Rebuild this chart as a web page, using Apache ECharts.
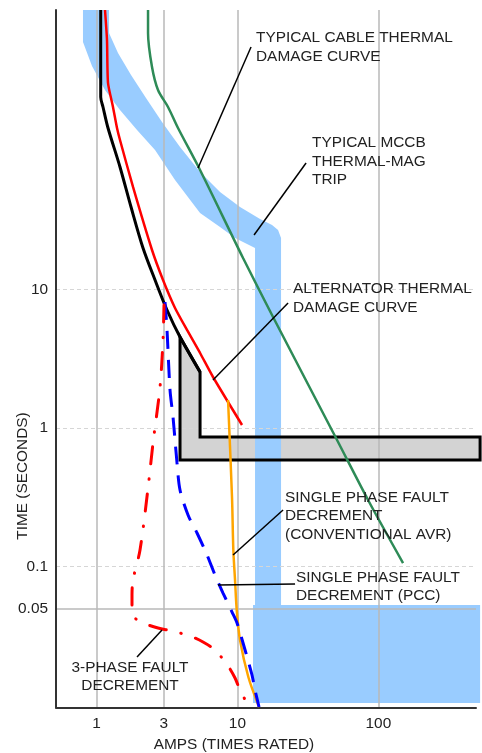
<!DOCTYPE html>
<html>
<head>
<meta charset="utf-8">
<script src="https://cdn.jsdelivr.net/npm/echarts@6/dist/echarts.min.js"></script>
<style>
  html, body { margin: 0; padding: 0; background: #fff; }
  #chart { width: 482px; height: 753px; }
</style>
</head>
<body>
<div id="chart"></div>
<script>
// axis ranges and ticks (amps = times rated, secs = seconds)
var xMin = 0.516, xMax = 492.9
var yMin = 0.009658, yMax = 1032
var xTicks = [1, 3, 10, 100]
var yTicks = [0.05, 0.1, 1, 10]
var yDashGrid = [0.1, 1, 10]
var ySolidGrid = [0.05]

// alternator curve (black)
var altAmps = [1.071, 1.071, 1.112, 1.207, 1.468, 1.758, 2.138, 2.602, 3.165, 3.914, 5.43]
var altSecs = [1032, 243.5, 206.3, 145.5, 76.2, 39.2, 19.86, 11.67, 7.09, 4.53, 2.534]

// grey L-shaped zone under the black curve
var boxAmps = [3.914, 5.43, 5.43, 527, 527, 3.914]
var boxSecs = [4.53, 2.534, 0.861, 0.861, 0.588, 0.588]

// alternator thermal damage curve (red)
var dmgAmps = [1.149, 1.187, 1.207, 1.309, 1.398, 1.468, 1.816, 2.477, 2.965, 3.607, 4.388, 5.43, 6.71, 10.78]
var dmgSecs = [1032, 627, 307.2, 206.3, 145.5, 119.2, 54.7, 19.2, 11.67, 7.33, 5.09, 3.474, 2.332, 1.051]

// typical cable thermal damage curve (green)
var cableAmps = [2.321, 2.321, 2.477, 2.732, 3.217, 3.788, 5.43, 10.96, 17.89, 50.9, 84.5, 149.7]
var cableSecs = [1032, 704.6, 400.6, 273.5, 206.3, 145.5, 72.5, 16.82, 6.31, 0.8194, 0.3027, 0.1063]

// single phase fault decrement, conventional AVR (orange)
var avrAmps = [8.579, 9.156, 9.352, 9.616, 9.886, 10.43, 11.95, 14.23]
var avrSecs = [1.592, 0.3129, 0.132, 0.0802, 0.0487, 0.02961, 0.01602, 0.00974]

// single phase fault decrement, PCC (blue dashed)
var pccAmps = [3.063, 3.165, 3.324, 3.491, 3.727, 3.914, 4.461, 5.168, 6.085, 6.934, 7.902, 9.156, 9.935, 10.96, 11.70, 12.69, 13.33, 14.23]
var pccSecs = [8.10, 5.09, 1.879, 1.2005, 0.5594, 0.3573, 0.2359, 0.175, 0.1215, 0.0871, 0.0646, 0.0471, 0.03926, 0.02818, 0.02234, 0.01656, 0.01291, 0.00974]

// 3-phase fault decrement (red dash-dot)
var tpAmps = [3.013, 2.965, 2.823, 2.518, 2.321, 2.036, 1.816, 1.786, 1.786, 1.876, 2.138, 2.732, 3.435, 4.609, 5.699, 6.934, 8.579, 9.616, 10.43, 12.09]
var tpSecs = [7.70, 4.31, 1.975, 0.7795, 0.3693, 0.132, 0.0802, 0.06252, 0.0487, 0.04267, 0.03926, 0.03614, 0.03439, 0.03165, 0.02865, 0.02507, 0.01924, 0.01576, 0.01291, 0.00974]

// MCCB thermal-mag trip band (light blue outline, clockwise)
var bandAmps = [0.8019, 0.8019, 0.929, 1.149, 1.468, 1.939, 2.602, 3.607, 5.43, 7.523, 9.616, 13.33, 13.33, 12.90, 12.90, 527, 527, 20.39, 20.39, 19.42, 17.60, 14.47, 10.43, 7.523, 5.43, 3.914, 2.916, 2.245, 1.758, 1.421, 1.227, 1.227]
var bandSecs = [1032, 606.7, 407.4, 273.5, 196.2, 140.8, 101.0, 61.38, 35.49, 28.13, 23.44, 19.86, 0.05295, 0.05295, 0.0104, 0.0104, 0.05295, 0.05295, 23.44, 26.77, 29.08, 32.1, 39.2, 50.3, 70.1, 106.2, 160.8, 239.4, 350.8, 505.3, 704.6, 1032]

// leader lines [amps, secs]
var leadCable = [[5.253, 74.9], [12.49, 558.4]]
var leadMccb = [[13.12, 24.63], [30.69, 81.4]]
var leadAlt = [[6.71, 2.219], [22.87, 7.965]]
var leadAvr = [[9.307, 0.1215], [21.07, 0.2563]]
var leadPcc = [[7.284, 0.07381], [25.63, 0.07504]]
var leadThree = [[2.916, 0.03496], [1.939, 0.02234]]

// annotation texts
var noteCable = ['TYPICAL CABLE THERMAL', 'DAMAGE CURVE']
var noteMccb = ['TYPICAL MCCB', 'THERMAL-MAG', 'TRIP']
var noteAlt = ['ALTERNATOR THERMAL', 'DAMAGE CURVE']
var noteAvr = ['SINGLE PHASE FAULT', 'DECREMENT', '(CONVENTIONAL AVR)']
var notePcc = ['SINGLE PHASE FAULT', 'DECREMENT (PCC)']
var noteThree = ['3-PHASE FAULT', 'DECREMENT']

var FONT = '"Liberation Sans", Arial, sans-serif'
var INK = '#222'

function lg(v) {
  return Math.log10(v)
}

function pts(amps, secs) {
  return amps.map(function (a, i) {
    return [lg(a), lg(secs[i])]
  })
}

function logPairs(list) {
  return list.map(function (p) {
    return [lg(p[0]), lg(p[1])]
  })
}

function tickText(v) {
  return String(Math.round(Math.pow(10, v) * 100) / 100)
}

function curve(data, style, smooth) {
  return {
    type: 'line',
    data: data,
    showSymbol: false,
    symbol: 'none',
    smooth: smooth,
    silent: true,
    z: 3,
    lineStyle: style
  }
}

function poly(points, style, z) {
  return {
    type: 'custom',
    coordinateSystem: 'cartesian2d',
    silent: true,
    z: z,
    data: [[0, 0]],
    renderItem: function (params, api) {
      return {
        type: 'polygon',
        shape: { points: points.map(function (p) { return api.coord(p) }) },
        style: style
      }
    }
  }
}

function leader(list) {
  return curve(logPairs(list), { color: '#000', width: 1.5 }, false)
}

function note(lines, x, y, align) {
  return {
    type: 'text',
    x: x,
    y: y,
    z: 10,
    silent: true,
    style: {
      text: lines.join('\n'),
      fontSize: 15.4,
      fontFamily: FONT,
      fill: INK,
      lineHeight: 18.5,
      align: align || 'left',
      verticalAlign: 'top'
    }
  }
}

var chart = echarts.init(document.getElementById('chart'), null, { renderer: 'canvas' })

var option = {
  animation: false,
  backgroundColor: '#fff',
  textStyle: { fontFamily: FONT },
  grid: { left: 56, right: 6, top: 10, bottom: 45.5 },
  xAxis: {
    type: 'value',
    min: lg(xMin),
    max: lg(xMax),
    axisLine: { onZero: false, lineStyle: { color: '#333', width: 2 } },
    axisTick: { show: false, customValues: xTicks.map(lg) },
    axisLabel: {
      customValues: xTicks.map(lg),
      formatter: tickText,
      color: INK,
      fontSize: 15.4,
      margin: 9
    },
    splitLine: { show: true, lineStyle: { color: '#b8b8b8', width: 1.5 } }
  },
  yAxis: [{
    type: 'value',
    min: lg(yMin),
    max: lg(yMax),
    axisLine: { show: true, onZero: false, lineStyle: { color: '#333', width: 2 } },
    axisTick: { show: false, customValues: yDashGrid.map(lg) },
    axisLabel: {
      customValues: yTicks.map(lg),
      formatter: tickText,
      color: INK,
      fontSize: 15.4,
      margin: 8
    },
    splitLine: { show: true, lineStyle: { color: '#d6d6d6', width: 1, type: [4, 3] } }
  }, {
    type: 'value',
    position: 'left',
    min: lg(yMin),
    max: lg(yMax),
    axisLine: { show: false },
    axisTick: { show: false, customValues: ySolidGrid.map(lg) },
    axisLabel: { show: false },
    splitLine: { show: true, lineStyle: { color: '#b8b8b8', width: 1.5 } }
  }],
  series: [
    poly(pts(boxAmps, boxSecs), { fill: '#d3d3d3' }, -3),
    poly(pts(bandAmps, bandSecs), { fill: '#99ccff' }, -2),
    poly(pts(boxAmps, boxSecs), { fill: 'none', stroke: '#000', lineWidth: 3 }, 2),
    curve(pts(cableAmps, cableSecs), { color: '#2e8b57', width: 2.5 }, 0.3),
    curve(pts(dmgAmps, dmgSecs), { color: '#ff0000', width: 2.5 }, 0.2),
    curve(pts(altAmps, altSecs), { color: '#000', width: 3 }, 0.3),
    curve(pts(avrAmps, avrSecs), { color: '#ffa500', width: 2.5 }, 0.3),
    curve(pts(pccAmps, pccSecs), { color: '#0000ff', width: 3, type: [18, 11] }, 0.3),
    curve(pts(tpAmps, tpSecs), { color: '#ff0000', width: 3, type: [17, 15, 0.5, 15], cap: 'round' }, 0.3),
    leader(leadCable),
    leader(leadMccb),
    leader(leadAlt),
    leader(leadAvr),
    leader(leadPcc),
    leader(leadThree)
  ],
  graphic: [
    note(noteCable, 256, 28.5),
    note(noteMccb, 312, 133.5),
    note(noteAlt, 293, 279.5),
    note(noteAvr, 285, 488),
    note(notePcc, 296, 568),
    note(noteThree, 130, 658, 'center'),
    {
      type: 'text', x: 234, y: 745, silent: true,
      style: { text: 'AMPS (TIMES RATED)', fontSize: 15.4, fontFamily: FONT, fill: INK, align: 'center', verticalAlign: 'middle' }
    },
    {
      type: 'text', x: 23, y: 476, rotation: Math.PI / 2, silent: true,
      style: { text: 'TIME (SECONDS)', fontSize: 15.4, fontFamily: FONT, fill: INK, align: 'center', verticalAlign: 'middle' }
    }
  ]
}

chart.setOption(option)
</script>
</body>
</html>
